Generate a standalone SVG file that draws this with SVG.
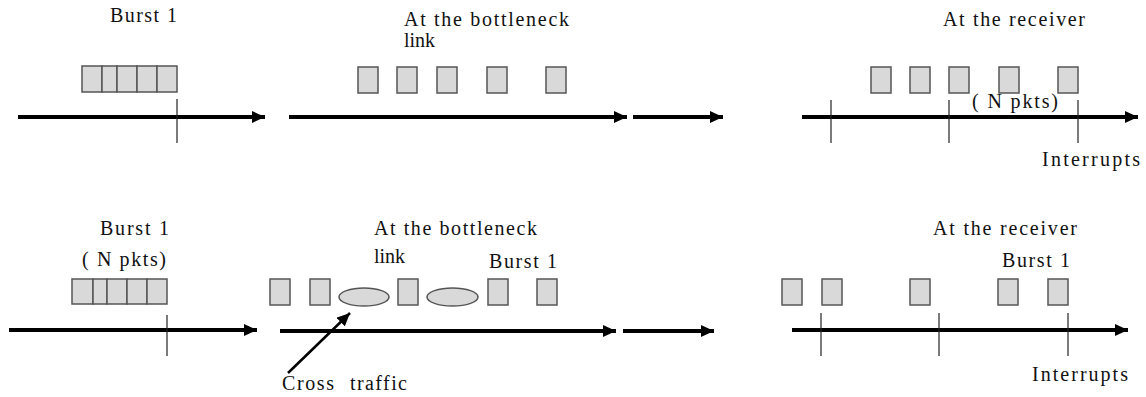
<svg xmlns="http://www.w3.org/2000/svg" width="1146" height="397" viewBox="0 0 1146 397">
<style>
.pk{fill:#d9d9d9;stroke:#555;stroke-width:1.5}
.ax{stroke:#000;stroke-width:4;fill:none}
.tk{stroke:#222;stroke-width:1.2}
.ct{stroke:#000;stroke-width:2.5;fill:none}
</style>
<defs>
<marker id="ah" markerUnits="userSpaceOnUse" markerWidth="14" markerHeight="12" refX="13" refY="6" orient="auto">
<path d="M0,0 L13,6 L0,12 Z" fill="#000"/>
</marker>
</defs>
<rect width="1146" height="397" fill="#fff"/>
<g id="connectors">
<line class="ax" x1="18" y1="117" x2="265" y2="117" marker-end="url(#ah)"/>
<line class="ax" x1="289" y1="117" x2="627" y2="117" marker-end="url(#ah)"/>
<line class="ax" x1="633" y1="117" x2="723" y2="117" marker-end="url(#ah)"/>
<line class="ax" x1="802" y1="117" x2="1138" y2="117" marker-end="url(#ah)"/>
<line class="ax" x1="9" y1="330" x2="257" y2="330" marker-end="url(#ah)"/>
<line class="ax" x1="280" y1="331" x2="616" y2="331" marker-end="url(#ah)"/>
<line class="ax" x1="623" y1="331" x2="714" y2="331" marker-end="url(#ah)"/>
<line class="ax" x1="792" y1="330" x2="1128" y2="330" marker-end="url(#ah)"/>
<line class="ct" x1="288" y1="373" x2="350" y2="313" marker-end="url(#ah)"/>
<line class="tk" x1="177" y1="99" x2="177" y2="143"/>
<line class="tk" x1="831" y1="100" x2="831" y2="143"/>
<line class="tk" x1="949" y1="100" x2="949" y2="143"/>
<line class="tk" x1="1078" y1="100" x2="1078" y2="143"/>
<line class="tk" x1="167" y1="315" x2="167" y2="356"/>
<line class="tk" x1="821" y1="313" x2="821" y2="356"/>
<line class="tk" x1="939" y1="313" x2="939" y2="356"/>
<line class="tk" x1="1068" y1="313" x2="1068" y2="356"/>
</g>
<g font-family="Liberation Serif, Times New Roman, serif" font-size="20" fill="#111">
<g id="top-burst">
<text x="110" y="22" textLength="67">Burst 1</text>
<rect class="pk" x="82" y="66" width="20" height="26"/>
<rect class="pk" x="102" y="66" width="15" height="26"/>
<rect class="pk" x="117" y="66" width="20" height="26"/>
<rect class="pk" x="137" y="66" width="20" height="26"/>
<rect class="pk" x="157" y="66" width="20" height="26"/>
</g>
<g id="top-bottleneck">
<text x="404" y="26" textLength="165">At the bottleneck</text>
<text x="404" y="47">link</text>
<rect class="pk" x="358" y="67" width="20" height="26"/>
<rect class="pk" x="397" y="67" width="20" height="26"/>
<rect class="pk" x="437" y="67" width="20" height="26"/>
<rect class="pk" x="487" y="67" width="20" height="26"/>
<rect class="pk" x="546" y="67" width="20" height="26"/>
</g>
<g id="top-receiver">
<text x="943" y="26" textLength="142">At the receiver</text>
<rect class="pk" x="871" y="67" width="20" height="26"/>
<rect class="pk" x="910" y="67" width="20" height="26"/>
<rect class="pk" x="949" y="67" width="20" height="26"/>
<rect class="pk" x="999" y="67" width="20" height="26"/>
<rect class="pk" x="1058" y="67" width="20" height="26"/>
<text x="972" y="108" textLength="86">( N pkts)</text>
<text x="1042" y="166" textLength="98">Interrupts</text>
</g>
<g id="bottom-burst">
<text x="100" y="235" textLength="69">Burst 1</text>
<text x="82" y="266" textLength="84">( N pkts)</text>
<rect class="pk" x="72" y="279" width="21" height="25"/>
<rect class="pk" x="93" y="279" width="14" height="25"/>
<rect class="pk" x="107" y="279" width="20" height="25"/>
<rect class="pk" x="127" y="279" width="20" height="25"/>
<rect class="pk" x="147" y="279" width="20" height="25"/>
</g>
<g id="bottom-bottleneck">
<text x="374" y="235" textLength="163">At the bottleneck</text>
<text x="374" y="263">link</text>
<text x="489" y="268" textLength="68">Burst 1</text>
<rect class="pk" x="270" y="279" width="20" height="26"/>
<rect class="pk" x="310" y="279" width="20" height="26"/>
<ellipse class="pk" cx="364" cy="297" rx="25" ry="9"/>
<rect class="pk" x="398" y="279" width="20" height="26"/>
<ellipse class="pk" cx="452.5" cy="297" rx="25.5" ry="9"/>
<rect class="pk" x="488" y="279" width="20" height="26"/>
<rect class="pk" x="537" y="279" width="20" height="26"/>
</g>
<g id="cross-traffic">
<text x="282" y="390" textLength="52">Cross</text>
<text x="350" y="390" textLength="57">traffic</text>
</g>
<g id="bottom-receiver">
<text x="933" y="235" textLength="144">At the receiver</text>
<text x="1002" y="267" textLength="68">Burst 1</text>
<rect class="pk" x="782" y="279" width="20" height="26"/>
<rect class="pk" x="822" y="279" width="20" height="26"/>
<rect class="pk" x="910" y="279" width="20" height="26"/>
<rect class="pk" x="998" y="279" width="20" height="26"/>
<rect class="pk" x="1048" y="279" width="20" height="26"/>
<text x="1032" y="381" textLength="96">Interrupts</text>
</g>
</g>
</svg>
